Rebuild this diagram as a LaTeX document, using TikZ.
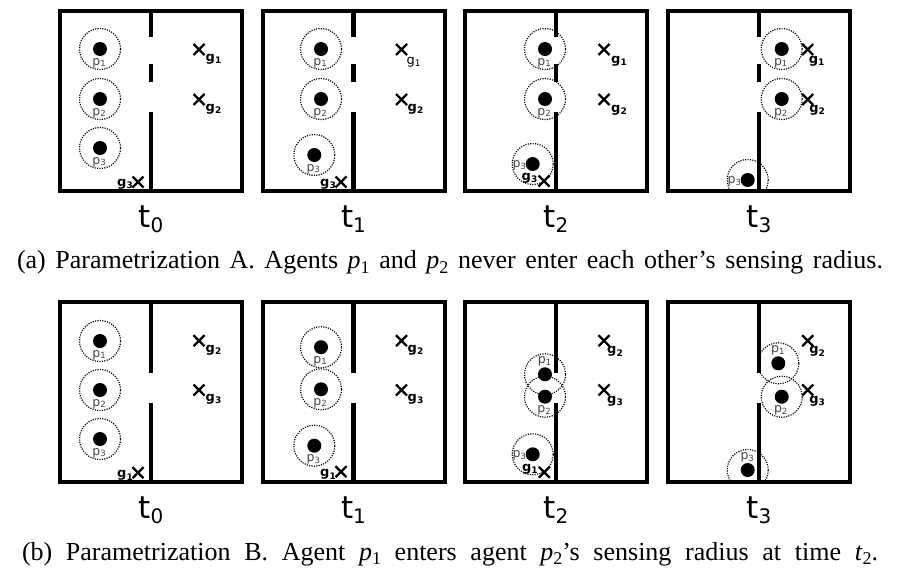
\documentclass[tikz,border=0pt]{standalone}
\usepackage{fontspec}
\setmainfont{Liberation Serif}
\newfontfamily\figfont{DejaVu Sans}
\newcommand\plabsub[1]{p\raisebox{-1.5pt}{\fontsize{8.5}{8.5}\selectfont #1}}
\newcommand\glabsub[1]{g\raisebox{-2.3pt}{\fontsize{9}{9}\selectfont #1}}
\newcommand\tlabsub[1]{t\raisebox{-5pt}{\fontsize{20}{20}\selectfont #1}}
\newcommand\capsub[2]{\textit{#1}\raisebox{-4.5pt}{\fontsize{18}{18}\selectfont #2}}
\tikzset{
  border/.style={line width=4pt},
  wallseg/.style={line width=4.2pt},
  ring/.style={line width=1.2pt, dash pattern=on 1.1pt off 1.3pt, black},
  goalmark/.style={line width=2.3pt},
  plabel/.style={font=\figfont\fontsize{12.5}{12.5}\selectfont, text=black!72, inner sep=0pt, anchor=base},
  glabel/.style={font=\figfont\bfseries\fontsize{13}{13}\selectfont, inner sep=0pt, anchor=base west},
  glabelreg/.style={font=\figfont\fontsize{13}{13}\selectfont, inner sep=0pt, anchor=base west},
  tlabel/.style={font=\figfont\fontsize{31}{31}\selectfont, inner sep=0pt, anchor=base},
  captext/.style={font=\fontsize{26}{30}\selectfont, inner sep=0pt, anchor=base},
}
\newcommand\panelbox{\draw[border] (0,0) rectangle (182,180.5);}
\newcommand\wallsA{\draw[wallseg] (91,0) -- (91,26.5) (91,53) -- (91,71.5) (91,101.5) -- (91,180.5);}
\newcommand\wallsB{\draw[wallseg] (91,0) -- (91,71.3) (91,101) -- (91,180.5);}
\newcommand\agentat[3]{\coordinate (#1) at (#2,#3); \draw[ring] (#1) circle[radius=20.5pt]; \fill (#1) circle[radius=7pt];}
\newcommand\pbelow[2]{\node[plabel] (#1-l) at ([shift={(-1,16)}]#1) {\plabsub{#2}};}
\newcommand\pabove[2]{\node[plabel] (#1-l) at ([shift={(-0.5,-10.5)}]#1) {\plabsub{#2}};}
\newcommand\pleft[2]{\node[plabel, anchor=base east] (#1-l) at ([shift={(-6.5,3.5)}]#1) {\plabsub{#2}};}
\newcommand\goalat[3]{\coordinate (#1) at (#2,#3); \draw[goalmark] ([shift={(-5.5,-5.5)}]#1) -- ([shift={(5.5,5.5)}]#1) ([shift={(-5.5,5.5)}]#1) -- ([shift={(5.5,-5.5)}]#1);}
\newcommand\gright[4]{\node[glabel] (#1-l) at ([shift={(#3,#4)}]#1) {\glabsub{#2}};}
\newcommand\grightreg[4]{\node[glabelreg] (#1-l) at ([shift={(#3,#4)}]#1) {\glabsub{#2}};}
\newcommand\gleft[4]{\node[glabel, anchor=base east] (#1-l) at ([shift={(#3,#4)}]#1) {\glabsub{#2}};}
\begin{document}
\begin{tikzpicture}[x=1pt,y=-1pt]
\useasboundingbox[fill=white] (0,0) rectangle (901,573);
% ---------------- Row A ----------------
% A0
\begin{scope}[shift={(60,10.5)}]
  \begin{scope}\clip (2,2) rectangle (180,178.5);
    \agentat{A0p1}{40}{38.5}\agentat{A0p2}{40}{88.5}\agentat{A0p3}{40}{137.5}
  \end{scope}
  \pbelow{A0p1}{1}\pbelow{A0p2}{2}\pbelow{A0p3}{3}
  \goalat{A0g1}{139}{39}\goalat{A0g2}{139}{89}\goalat{A0g3}{78}{171.5}
  \gright{A0g1}{1}{6.5}{11.5}\gright{A0g2}{2}{6.5}{11.5}\gleft{A0g3}{3}{-5}{4.5}
  \panelbox\wallsA
  \node[tlabel] (A0t) at (91,216.5) {\tlabsub{0}};
\end{scope}
% A1
\begin{scope}[shift={(262.5,10.5)}]
  \begin{scope}\clip (2,2) rectangle (180,178.5);
    \agentat{A1p1}{58.5}{38.5}\agentat{A1p2}{58.5}{88.5}\agentat{A1p3}{51.8}{144.5}
  \end{scope}
  \pbelow{A1p1}{1}\pbelow{A1p2}{2}\pbelow{A1p3}{3}
  \goalat{A1g1}{139}{39}\goalat{A1g2}{139}{89}\goalat{A1g3}{78.5}{171.5}
  \grightreg{A1g1}{1}{5}{14.5}\gright{A1g2}{2}{6}{11.5}\gleft{A1g3}{3}{-5}{4.5}
  \panelbox\wallsA
  \node[tlabel] (A1t) at (91,216.5) {\tlabsub{1}};
\end{scope}
% A2
\begin{scope}[shift={(465,10.5)}]
  \begin{scope}\clip (2,2) rectangle (180,178.5);
    \agentat{A2p1}{80}{38.5}\agentat{A2p2}{80}{88.5}\agentat{A2p3}{67.7}{153.5}
  \end{scope}
  \pbelow{A2p1}{1}\pbelow{A2p2}{2}\pleft{A2p3}{3}
  \goalat{A2g1}{139}{39}\goalat{A2g2}{139}{89}\goalat{A2g3}{79}{170.5}
  \gright{A2g1}{1}{7}{13.5}\gright{A2g2}{2}{7}{13}\gleft{A2g3}{3}{-6.5}{-1}
  \panelbox\wallsA
  \node[tlabel] (A2t) at (91,216.5) {\tlabsub{2}};
\end{scope}
% A3
\begin{scope}[shift={(668,10.5)}]
  \begin{scope}\clip (2,2) rectangle (180,178.5);
    \agentat{A3p1}{113.7}{38.5}\agentat{A3p2}{113.7}{88.5}\agentat{A3p3}{79.7}{169.5}
  \end{scope}
  \pbelow{A3p1}{1}\pbelow{A3p2}{2}\pleft{A3p3}{3}
  \goalat{A3g1}{139.7}{39}\goalat{A3g2}{139.7}{89}
  \gright{A3g1}{1}{1}{13.5}\gright{A3g2}{2}{1.5}{13}
  \panelbox\wallsA
  \node[tlabel] (A3t) at (91,216.5) {\tlabsub{3}};
\end{scope}
\node[captext] (capA) at (450,268.5) {\makebox[866pt][s]{(a) Parametrization A. Agents \capsub{p}{1} and \capsub{p}{2} never enter each other's sensing radius.}};
% ---------------- Row B ----------------
% B0
\begin{scope}[shift={(60,301.7)}]
  \begin{scope}\clip (2,2) rectangle (180,178.5);
    \agentat{B0p1}{40}{39.3}\agentat{B0p2}{40}{88.3}\agentat{B0p3}{40}{137.3}
  \end{scope}
  \pbelow{B0p1}{1}\pbelow{B0p2}{2}\pbelow{B0p3}{3}
  \goalat{B0g2}{139}{39}\goalat{B0g3}{139}{88.3}\goalat{B0g1}{78}{171}
  \gright{B0g2}{2}{6.5}{11.5}\gright{B0g3}{3}{6.5}{11.5}\gleft{B0g1}{1}{-5}{5}
  \panelbox\wallsB
  \node[tlabel] (B0t) at (91,216.5) {\tlabsub{0}};
\end{scope}
% B1
\begin{scope}[shift={(262.5,301.7)}]
  \begin{scope}\clip (2,2) rectangle (180,178.5);
    \agentat{B1p1}{58.5}{45.5}\agentat{B1p2}{58.5}{87.6}\agentat{B1p3}{51.8}{144}
  \end{scope}
  \pbelow{B1p1}{1}\pbelow{B1p2}{2}\pbelow{B1p3}{3}
  \goalat{B1g2}{139}{39}\goalat{B1g3}{139}{88.3}\goalat{B1g1}{78.5}{170}
  \gright{B1g2}{2}{6}{11.5}\gright{B1g3}{3}{6}{11.5}\gleft{B1g1}{1}{-5}{5}
  \panelbox\wallsB
  \node[tlabel] (B1t) at (91,216.5) {\tlabsub{1}};
\end{scope}
% B2
\begin{scope}[shift={(465,301.7)}]
  \begin{scope}\clip (2,2) rectangle (180,178.5);
    \agentat{B2p1}{80}{72.6}\agentat{B2p2}{80}{95}\agentat{B2p3}{67.7}{152.6}
  \end{scope}
  \pabove{B2p1}{1}\pbelow{B2p2}{2}\pleft{B2p3}{3}
  \goalat{B2g2}{139}{39}\goalat{B2g3}{139}{88.3}\goalat{B2g1}{79.3}{170.6}
  \gright{B2g2}{2}{3}{13}\gright{B2g3}{3}{3}{13}\gleft{B2g1}{1}{-6.5}{-1}
  \panelbox\wallsB
  \node[tlabel] (B2t) at (91,216.5) {\tlabsub{2}};
\end{scope}
% B3
\begin{scope}[shift={(668,301.7)}]
  \begin{scope}\clip (2,2) rectangle (180,178.5);
    \agentat{B3p1}{110.3}{61.6}\agentat{B3p2}{113.7}{95}\agentat{B3p3}{79.7}{168.3}
  \end{scope}
  \pabove{B3p1}{1}\pbelow{B3p2}{2}\pabove{B3p3}{3}
  \goalat{B3g2}{139.7}{39}\goalat{B3g3}{139.7}{88.3}
  \gright{B3g2}{2}{1.5}{13}\gright{B3g3}{3}{1.5}{13}
  \panelbox\wallsB
  \node[tlabel] (B3t) at (91,216.5) {\tlabsub{3}};
\end{scope}
\node[captext] (capB) at (450,560) {\makebox[856pt][s]{(b) Parametrization B. Agent \capsub{p}{1} enters agent \capsub{p}{2}'s sensing radius at time \capsub{t}{2}.}};
\end{tikzpicture}
\end{document}
